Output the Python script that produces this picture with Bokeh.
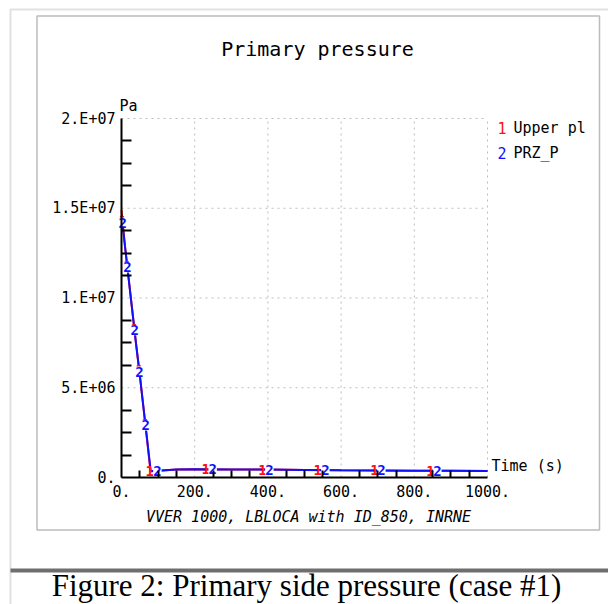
from bokeh.plotting import figure
from bokeh.models import Range1d, LinearAxis, FixedTicker, Label, BoxAnnotation
from bokeh.core.properties import value
from bokeh.embed import file_html
from bokeh.resources import INLINE

# ---------------- data ----------------
time_upper = [0, 10, 20, 30, 40, 50, 60, 70, 79, 100, 150, 200, 300, 400, 500, 600, 700, 800, 900, 1000]
p_upper = [1.49e7, 1.28e7, 1.10e7, 9.2e6, 7.4e6, 5.7e6, 3.9e6, 2.1e6, 3.5e5, 3.8e5, 4.5e5, 4.6e5, 4.5e5, 4.4e5, 4.2e5, 4.0e5, 3.9e5, 3.8e5, 3.7e5, 3.6e5]
time_prz = [0, 10, 20, 30, 40, 50, 60, 70, 80, 100, 150, 200, 300, 400, 500, 600, 700, 800, 900, 1000]
p_prz = [1.46e7, 1.28e7, 1.10e7, 9.2e6, 7.4e6, 5.7e6, 3.9e6, 2.1e6, 3.5e5, 3.8e5, 4.5e5, 4.6e5, 4.5e5, 4.4e5, 4.2e5, 4.0e5, 3.9e5, 3.8e5, 3.7e5, 3.6e5]

mark_t_upper = [3, 16, 36, 49, 66, 77, 230, 385, 536, 691, 844]
mark_p_upper = [1.43e7, 1.18e7, 8.3e6, 6.0e6, 3.0e6, 3.5e5, 4.6e5, 4.4e5, 4.2e5, 4.0e5, 3.8e5]
mark_t_prz = [3, 16, 36, 49, 66, 98, 249, 404, 557, 710, 863]
mark_p_prz = [1.42e7, 1.17e7, 8.2e6, 5.9e6, 2.9e6, 3.8e5, 4.6e5, 4.4e5, 4.2e5, 4.0e5, 3.8e5]

x_major = [0, 200, 400, 600, 800, 1000]
x_labels = ["0.", "200.", "400.", "600.", "800.", "1000."]
x_minor = [50, 100, 150, 250, 300, 350, 450, 500, 550, 650, 700, 750, 850, 900, 950]
y_major = [0, 5e6, 1e7, 1.5e7, 2e7]
y_labels = ["0.", "5.E+06", "1.E+07", "1.5E+07", "2.E+07"]
y_minor = [1.25e6, 2.5e6, 3.75e6, 6.25e6, 7.5e6, 8.75e6, 1.125e7, 1.25e7, 1.375e7, 1.625e7, 1.75e7, 1.875e7]

title_text = "Primary pressure"
subtitle_text = "VVER 1000, LBLOCA with ID_850, INRNE"
y_unit = "Pa"
x_unit = "Time (s)"
series_names = ["Upper pl", "PRZ_P"]
caption_text = "Figure 2: Primary side pressure (case #1)"

# ---------------- layout ----------------
W, H = 608, 604
PX_X0, PX_X1 = 121, 487      # pixel columns of x = 0 and x = 1000
PX_Y0, PX_Y1 = 477, 118      # pixel rows of y = 0 and y = 2e7
XMIN, XMAX = x_major[0], x_major[-1]
YMIN, YMAX = y_major[0], y_major[-1]
kx = (PX_X1 - PX_X0) / (XMAX - XMIN)
ky = (PX_Y0 - PX_Y1) / (YMAX - YMIN)
x_range = Range1d(XMIN - PX_X0 / kx, XMIN + (W - PX_X0) / kx)
y_range = Range1d(YMIN - (H - PX_Y0) / ky, YMIN + PX_Y0 / ky)

MONO = "DejaVu Sans Mono"
RED = "#ff1010"
BLUE = "#1010ff"

p = figure(width=W, height=H, x_range=x_range, y_range=y_range,
           output_backend="svg", toolbar_location=None, min_border=0,
           x_axis_type=None, y_axis_type=None)
p.outline_line_color = None
p.background_fill_color = "white"
p.border_fill_color = "white"

def sy(py):
    return H - py

def box(left, right, top, bottom, **kw):
    p.add_layout(BoxAnnotation(left=left, right=right, top=sy(top), bottom=sy(bottom),
                               left_units="screen", right_units="screen",
                               top_units="screen", bottom_units="screen", **kw))

# decorations (page table cells and chart frame)
box(10, W + 20, 9, H + 20, fill_color=None, line_color="#9a9a9a", line_width=2)
box(10, W + 20, 568, 572, fill_color="#6e6e6e", fill_alpha=1, line_color=None)
box(36.5, 599, 15.5, 529.5, fill_color=None, line_color="#222222", line_width=1.5)

# grid (dotted)
gx = x_major[1:]
p.segment(x0=gx, y0=[YMIN] * len(gx), x1=gx, y1=[YMAX] * len(gx),
          line_color="#bdbdbd", line_width=1, line_dash="2 4")
gy = y_major[1:]
p.segment(x0=[XMIN] * len(gy), y0=gy, x1=[XMAX] * len(gy), y1=gy,
          line_color="#bdbdbd", line_width=1, line_dash="2 4")

# axes drawn inside the frame at fixed locations
axis_style = dict(axis_line_width=2, axis_line_color="black",
                  major_tick_in=0, major_tick_out=0, minor_tick_out=0,
                  minor_tick_line_width=2, minor_tick_line_color="black",
                  major_label_text_font=MONO, major_label_text_font_size="15px",
                  major_label_text_color="black")
xaxis = LinearAxis(fixed_location=YMIN, bounds=(XMIN, XMAX),
                   ticker=FixedTicker(ticks=x_major, minor_ticks=x_minor),
                   major_label_overrides=dict(zip(x_major, x_labels)),
                   minor_tick_in=7, major_label_standoff=7, **axis_style)
p.add_layout(xaxis, "below")
yaxis = LinearAxis(fixed_location=XMIN, bounds=(YMIN, YMAX),
                   ticker=FixedTicker(ticks=y_major, minor_ticks=y_minor),
                   major_label_overrides=dict(zip(y_major, y_labels)),
                   minor_tick_in=10, major_label_standoff=6, **axis_style)
p.add_layout(yaxis, "left")

# series
p.line(time_upper, p_upper, line_color=RED, line_width=2)
p.line(time_prz, p_prz, line_color=BLUE, line_width=2)
p.text(x=mark_t_upper, y=mark_p_upper, text=["1"] * len(mark_t_upper),
       text_color=RED, text_font=value(MONO), text_font_size="14px",
       text_align="center", text_baseline="middle", text_font_style="bold")
p.text(x=mark_t_prz, y=mark_p_prz, text=["2"] * len(mark_t_prz),
       text_color=BLUE, text_font=value(MONO), text_font_size="14px",
       text_align="center", text_baseline="middle", text_font_style="bold",
       background_fill_color="white")

def lab(text, x, py, size="15px", color="black", align="left", baseline="middle",
        font=MONO, style="normal"):
    p.add_layout(Label(x=x, y=sy(py), x_units="screen", y_units="screen", text=text,
                       text_font=font, text_font_size=size, text_color=color,
                       text_align=align, text_baseline=baseline, text_font_style=style))

lab(title_text, 317, 48, size="20px", align="center")
lab(y_unit, 119, 114, baseline="bottom")
lab(x_unit, 491, 465)
lab("1", 497, 127, color=RED)
lab(series_names[0], 513, 127)
lab("2", 497, 152, color=BLUE)
lab(series_names[1], 513, 152)
lab(subtitle_text, 308, 516, align="center", style="italic")
lab(caption_text, 306, 602, size="31px", align="center", baseline="bottom",
    font="Liberation Serif")

open("out.html", "w").write(file_html(p, INLINE))
